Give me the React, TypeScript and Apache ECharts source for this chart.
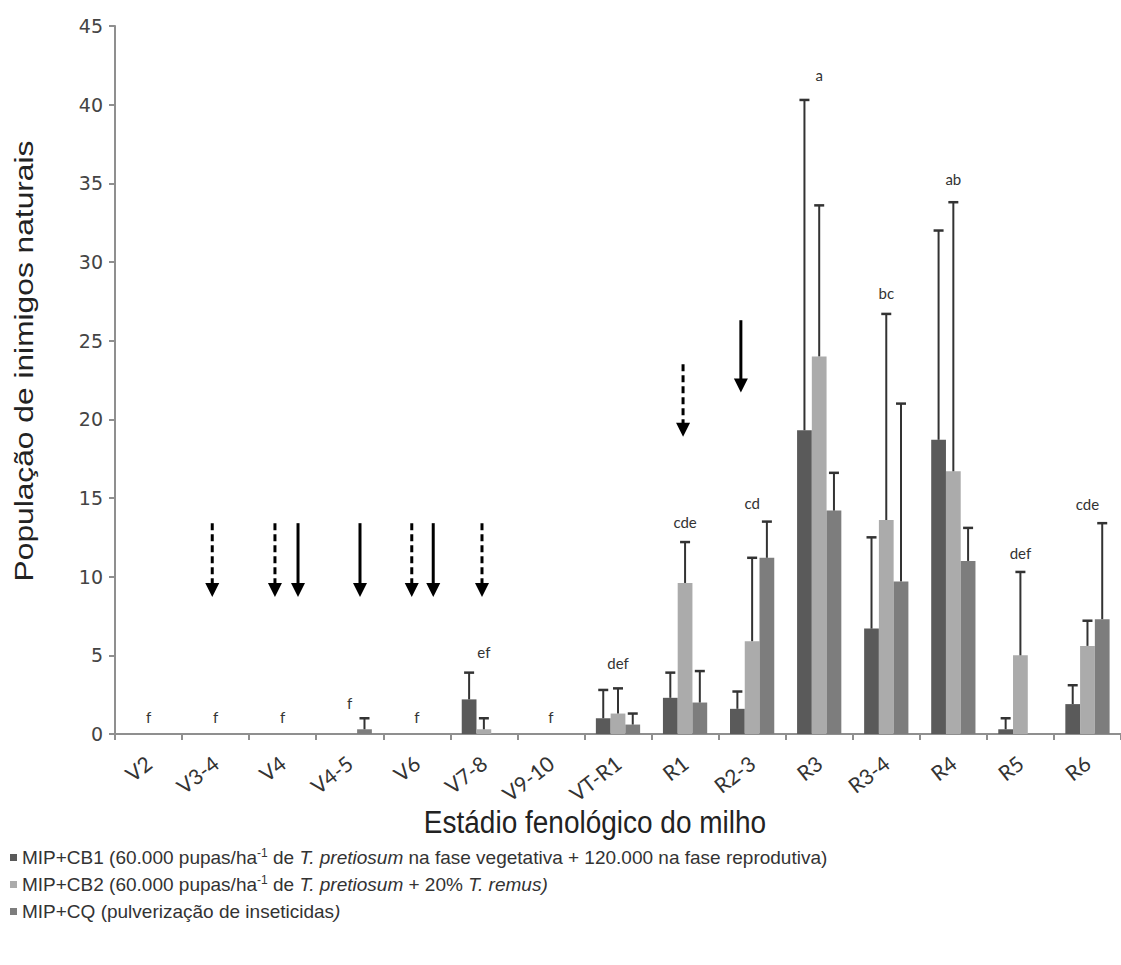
import React, { useEffect, useRef } from "react";
import * as echarts from "echarts";

const categories = ["V2", "V3-4", "V4", "V4-5", "V6", "V7-8", "V9-10", "VT-R1", "R1", "R2-3", "R3", "R3-4", "R4", "R5", "R6"];
const seriesNames = ["MIP+CB1", "MIP+CB2", "MIP+CQ"];
const cb1 = [0, 0, 0, 0, 0, 2.2, 0, 1.0, 2.3, 1.6, 19.3, 6.7, 18.7, 0.3, 1.9];
const cb1Upper = [null, null, null, null, null, 3.9, null, 2.8, 3.9, 2.7, 40.3, 12.5, 32.0, 1.0, 3.1];
const cb2 = [0, 0, 0, 0, 0, 0.3, 0, 1.3, 9.6, 5.9, 24.0, 13.6, 16.7, 5.0, 5.6];
const cb2Upper = [null, null, null, null, null, 1.0, null, 2.9, 12.2, 11.2, 33.6, 26.7, 33.8, 10.3, 7.2];
const cq = [0, 0, 0, 0.3, 0, 0, 0, 0.6, 2.0, 11.2, 14.2, 9.7, 11.0, 0, 7.3];
const cqUpper = [null, null, null, 1.0, null, null, null, 1.3, 4.0, 13.5, 16.6, 21.0, 13.1, null, 13.4];
const letters = ["f", "f", "f", "f", "f", "ef", "f", "def", "cde", "cd", "a", "bc", "ab", "def", "cde"];
const letterY = [1.1, 1.1, 1.1, 2.0, 1.1, 5.2, 1.1, 4.5, 13.5, 14.7, 41.9, 28.0, 35.3, 11.5, 14.6];
const arrowCat = [1, 2, 2, 3, 4, 4, 5, 8, 9];
const arrowOffset = [-0.05, -0.115, 0.229, 0.153, -0.075, 0.245, -0.028, -0.03, -0.168];
const arrowTop = [13.4, 13.4, 13.4, 13.4, 13.4, 13.4, 13.4, 23.5, 26.3];
const arrowTip = [8.7, 8.7, 8.7, 8.7, 8.7, 8.7, 8.7, 18.9, 21.7];
const arrowDashed = [1, 1, 0, 0, 1, 0, 1, 1, 0];
const yTicks = { min: 0, max: 45, interval: 5 };

const colors = ["#5a5a5a", "#ababab", "#7d7d7d"];
const CAT_GAP = 0.34;

const legendText: Record<string, string> = {
  "MIP+CB1": "MIP+CB1 (60.000 pupas/ha{sup|-1} de {i|T. pretiosum} na fase vegetativa + 120.000 na fase reprodutiva)",
  "MIP+CB2": "MIP+CB2 (60.000 pupas/ha{sup|-1} de {i|T. pretiosum} + 20% {i|T. remus)}",
  "MIP+CQ": "MIP+CQ (pulverização de inseticidas{i|)}",
};

export default function App() {
  const ref = useRef<HTMLDivElement>(null);
  useEffect(() => {
    if (!ref.current) return;
    const chart = echarts.init(ref.current, null, { renderer: "svg" });
    const values = [cb1, cb2, cq];
    const uppers = [cb1Upper, cb2Upper, cqUpper];
    const errData: number[][] = [];
    uppers.forEach((arr, s) =>
      arr.forEach((u, i) => {
        if (u !== null) errData.push([i, s, values[s][i], u as number]);
      })
    );
    const arrowData = arrowCat.map((c, k) => [c, arrowTop[k], arrowTip[k], arrowOffset[k], arrowDashed[k]]);
    const letterData = letters.map((_, i) => [i, letterY[i]]);

    const option: any = {
      animation: false,
      grid: { left: 115, top: 26, width: 1017, height: 708, containLabel: false },
      legend: {
        orient: "vertical",
        left: 5,
        top: 842,
        icon: "rect",
        itemWidth: 7,
        itemHeight: 7,
        itemGap: 6,
        data: seriesNames,
        formatter: (name: string) => legendText[name],
        textStyle: {
          fontFamily: "Liberation Sans",
          fontSize: 19,
          color: "#333",
          lineHeight: 21,
          rich: {
            i: { fontFamily: "Liberation Sans", fontStyle: "italic", fontSize: 19, color: "#333" },
            sup: { fontFamily: "Liberation Sans", fontSize: 12, color: "#333", verticalAlign: "top", lineHeight: 21 },
          },
        },
      },
      xAxis: {
        type: "category",
        data: categories,
        axisLine: { lineStyle: { color: "#8f8f8f", width: 2 } },
        axisTick: { show: true, length: 6, lineStyle: { color: "#8f8f8f", width: 2 } },
        axisLabel: { rotate: 38, fontFamily: "Lato", fontSize: 21, color: "#333", margin: 26, interval: 0 },
      },
      yAxis: {
        type: "value",
        min: yTicks.min,
        max: yTicks.max,
        interval: yTicks.interval,
        splitLine: { show: false },
        axisLine: { show: true, lineStyle: { color: "#8f8f8f", width: 2 } },
        axisTick: { show: true, length: 6, lineStyle: { color: "#8f8f8f", width: 2 } },
        axisLabel: { fontFamily: "DejaVu Sans", fontSize: 19, color: "#444", margin: 12 },
      },
      graphic: [
        {
          type: "text",
          x: 595,
          y: 822,
          scaleY: 1.1,
          style: {
            text: "Estádio fenológico do milho",
            font: '28px "Liberation Sans"',
            fill: "#222",
            align: "center",
            verticalAlign: "middle",
          },
        },
        {
          type: "text",
          x: 24,
          y: 361,
          rotation: Math.PI / 2,
          scaleX: 1.22,
          style: {
            text: "População de inimigos naturais",
            font: '26px "Liberation Sans"',
            fill: "#222",
            align: "center",
            verticalAlign: "middle",
          },
        },
      ],
      series: [
        ...seriesNames.map((n, s) => ({
          name: n,
          type: "bar",
          data: values[s],
          barGap: "0%",
          barCategoryGap: CAT_GAP * 100 + "%",
          itemStyle: { color: colors[s] },
        })),
        {
          type: "custom",
          name: "err",
          data: errData,
          encode: { x: 0, y: 3 },
          z: 5,
          renderItem: (params: any, api: any) => {
            const i = api.value(0);
            const s = api.value(1);
            const v = api.value(2);
            const u = api.value(3);
            const band = api.size([1, 0])[0];
            const bw = (band * (1 - CAT_GAP)) / 3;
            const cx = api.coord([i, 0])[0] + (s - 1) * bw;
            const y0 = api.coord([i, v])[1];
            const y1 = api.coord([i, u])[1];
            return {
              type: "group",
              children: [
                { type: "line", shape: { x1: cx, y1: y0, x2: cx, y2: y1 }, style: { stroke: "#333", lineWidth: 2 } },
                { type: "line", shape: { x1: cx - 5, y1: y1, x2: cx + 5, y2: y1 }, style: { stroke: "#333", lineWidth: 2.5 } },
              ],
            };
          },
        },
        {
          type: "custom",
          name: "arrows",
          data: arrowData,
          encode: { x: 0, y: 1 },
          z: 6,
          renderItem: (params: any, api: any) => {
            const c = api.value(0);
            const top = api.value(1);
            const tip = api.value(2);
            const off = api.value(3);
            const dashed = api.value(4);
            const band = api.size([1, 0])[0];
            const cx = api.coord([c, top])[0] + off * band;
            const yTop = api.coord([c, top])[1];
            const yTip = api.coord([c, tip])[1];
            const head = 14;
            return {
              type: "group",
              children: [
                {
                  type: "line",
                  shape: { x1: cx, y1: yTop, x2: cx, y2: yTip - head + 1 },
                  style: { stroke: "#000", lineWidth: 3, lineDash: dashed ? [7, 4] : null },
                },
                {
                  type: "polygon",
                  shape: { points: [[cx - 7, yTip - head], [cx + 7, yTip - head], [cx, yTip]] },
                  style: { fill: "#000" },
                },
              ],
            };
          },
        },
        {
          type: "custom",
          name: "letters",
          data: letterData,
          encode: { x: 0, y: 1 },
          z: 7,
          renderItem: (params: any, api: any) => {
            const i = api.value(0);
            const p = api.coord([i, api.value(1)]);
            return {
              type: "text",
              x: p[0],
              y: p[1],
              style: {
                text: letters[i],
                font: '15px "Lato"',
                fill: "#333",
                align: "center",
                verticalAlign: "middle",
              },
            };
          },
        },
      ],
    };
    chart.setOption(option);
    return () => chart.dispose();
  }, []);
  return <div ref={ref} style={{ position: "fixed", left: 0, top: 0, width: 1121, height: 965, background: "#fff" }} />;
}
